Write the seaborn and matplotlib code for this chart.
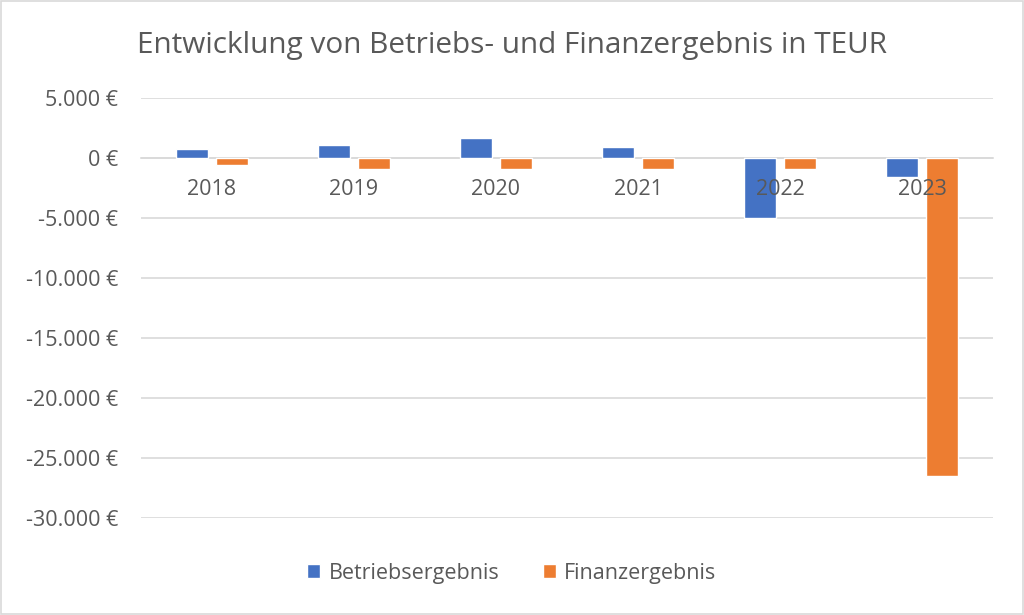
import matplotlib
matplotlib.use("Agg")
import matplotlib.pyplot as plt
import seaborn as sns
import pandas as pd
from matplotlib.ticker import FuncFormatter, FixedLocator

years = ["2018", "2019", "2020", "2021", "2022", "2023"]
betriebsergebnis = [720, 1080, 1690, 920, -5000, -1560]
finanzergebnis = [-610, -890, -940, -890, -940, -26470]
series_names = ["Betriebsergebnis", "Finanzergebnis"]
colors = ["#4472C4", "#ED7D31"]

df = pd.DataFrame({
    "Jahr": years * 2,
    "Wert": betriebsergebnis + finanzergebnis,
    "Serie": [series_names[0]] * len(years) + [series_names[1]] * len(years),
})

sns.set_theme(style="white")
plt.rcParams["font.family"] = ["Open Sans", "DejaVu Sans"]

fig = plt.figure(figsize=(10.24, 6.15), dpi=100)
ax = fig.add_axes([141 / 1024, 1 - 518 / 615, (993 - 141) / 1024, (518 - 98) / 615])

sns.barplot(data=df, x="Jahr", y="Wert", hue="Serie", palette=colors,
            width=0.57, gap=0.22, ax=ax, legend=True, saturation=1)

ax.set_ylim(-30000, 5000)
ax.set_xlim(-0.5, 5.5)
ax.yaxis.set_major_locator(FixedLocator(list(range(-30000, 5001, 5000))))
ax.yaxis.set_major_formatter(FuncFormatter(
    lambda v, p: (f"{int(v):,}".replace(",", ".")) + " €"))
ax.grid(axis="y", color="#D9D9D9", linewidth=1.2)
ax.set_axisbelow(True)
ax.xaxis.set_zorder(5)
for s in ["top", "right", "left"]:
    ax.spines[s].set_visible(False)
ax.spines["bottom"].set_position(("data", 0))
ax.spines["bottom"].set_color("#D9D9D9")
ax.spines["bottom"].set_linewidth(1.2)
ax.spines["bottom"].set_zorder(0.6)
ax.tick_params(axis="both", length=0, labelsize=15.5, labelcolor="#595959")
ax.tick_params(axis="x", pad=15)
ax.tick_params(axis="y", pad=16.5)
ax.set_xlabel("")
ax.set_ylabel("")

handles, labels = ax.get_legend_handles_labels()
ax.get_legend().remove()
fig.legend(handles, labels, loc="center", bbox_to_anchor=(0.5, 1 - 573 / 615),
           ncol=2, frameon=False, fontsize=15.5, labelcolor="#595959",
           handlelength=0.6, handleheight=0.6, columnspacing=2.0, handletextpad=0.4)

fig.text(0.5, 1 - 45 / 615, "Entwicklung von Betriebs- und Finanzergebnis in TEUR",
         ha="center", va="center", fontsize=21.4, color="#595959")

fig.patches.append(plt.Rectangle((0.001, 0.001), 0.998, 0.998, transform=fig.transFigure,
                                 fill=False, edgecolor="#D9D9D9", linewidth=1.2))
fig.savefig("out.png", dpi=100, facecolor="white")
